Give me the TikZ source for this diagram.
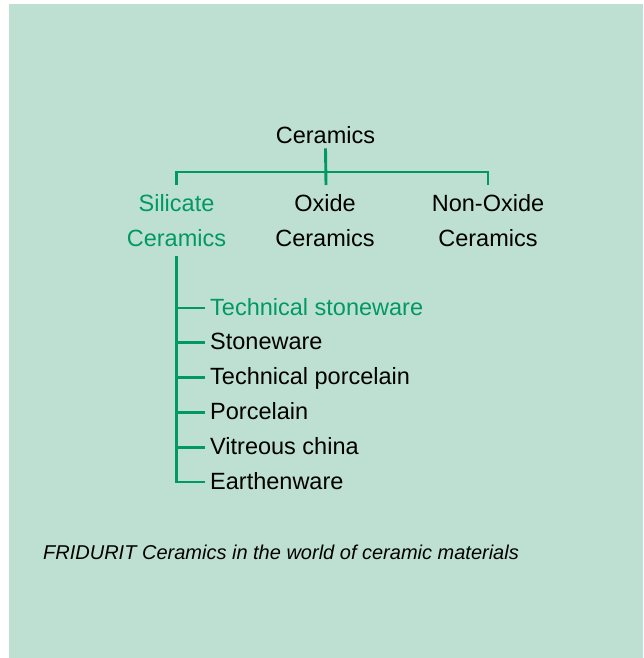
\documentclass[tikz,border=0pt]{standalone}
\usepackage{fontspec}
\setmainfont{Liberation Sans}
\usetikzlibrary{positioning,calc}
\definecolor{mint}{RGB}{190,224,211}
\definecolor{fridgreen}{RGB}{0,153,102}

\begin{document}
\begin{tikzpicture}[x=1pt,y=-1pt,
  txt/.style={font=\fontsize{23.5}{35}\selectfont, inner sep=0pt},
  tier/.style={txt, align=center, inner ysep=9pt, anchor=north},
  item/.style={txt, anchor=west, inner xsep=5pt, text height=18pt, text depth=4pt},
  branch/.style={fridgreen, line width=2.9pt}]
% Background
\useasboundingbox (0,0) rectangle (643,658);
\fill[mint] (9,4) rectangle (643,658);

% Top level
\node[txt, inner ysep=5pt, anchor=base] (root) at (325.5,143) {Ceramics};

% Three groups
\node[tier, text=fridgreen] (silicate) at (176.5,185) {Silicate\\Ceramics};
\node[tier] (oxide) at (325,185) {Oxide\\Ceramics};
\node[tier] (nonoxide) at (488,185) {Non-Oxide\\Ceramics};

\coordinate (fork) at (326,172);
\draw[branch] (root.south) -- (fork |- oxide.north);
\draw[branch] (silicate.north) |- (fork) -| (nonoxide.north);

% Silicate ceramics
\foreach \txt/\col [count=\i] in {Technical stoneware/fridgreen, Stoneware/black,
    Technical porcelain/black, Porcelain/black, Vitreous china/black, Earthenware/black}
  \node[item, text=\col] (item\i) at (205,{273.2+34.8*\i}) {\txt};

\draw[branch] (silicate.south) |- (item6.west);
\foreach \i in {1,...,5}
  \draw[branch] (item\i.west -| silicate.south) -- (item\i.west);

% Caption
\node[font=\fontsize{20}{24}\selectfont\itshape, anchor=base west, inner sep=0pt] (caption)
  at (43,559) {FRIDURIT Ceramics in the world of ceramic materials};
\end{tikzpicture}
\end{document}
